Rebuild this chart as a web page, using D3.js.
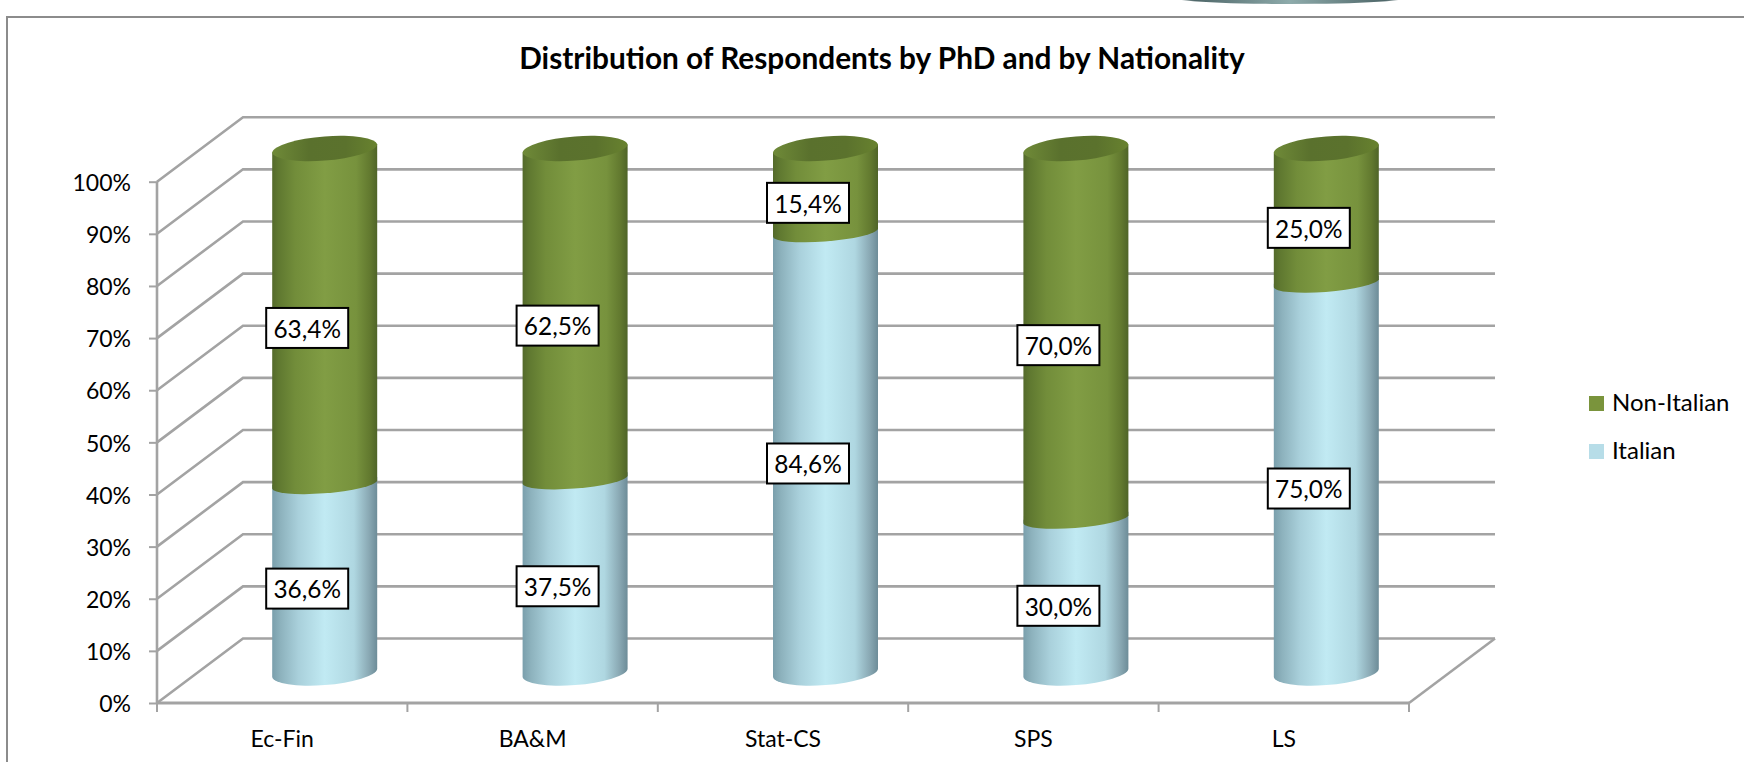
<!DOCTYPE html>
<html lang="en">
<head>
  <meta charset="UTF-8" />
  <title>Distribution of Respondents by PhD and by Nationality</title>
  <script src="https://d3js.org/d3.v7.min.js"></script>
  <style>
    *{margin:0;padding:0;box-sizing:border-box}
    body{background:#fff;overflow:hidden}
    svg{display:block;font-family:Lato,sans-serif;fill:#000}
    .grid{stroke:#a3a3a3;stroke-width:2.6;fill:none}
    .tick text{fill:#000}
    .tick line,.domain{stroke:#a3a3a3}
  </style>
</head>
<body>
  <div id="chart"></div>
  <script>
    const chartTitle = 'Distribution of Respondents by PhD and by Nationality';
    const categories = ['Ec-Fin','BA&M','Stat-CS','SPS','LS'];
    const italian    = [36.6,37.5,84.6,30.0,75.0];
    const nonItalian = [63.4,62.5,15.4,70.0,25.0];
    const seriesKeys = ['Italian','Non-Italian'];
    const yTicks     = [0,10,20,30,40,50,60,70,80,90,100];

    const width=1744, height=762;
    const x0=157, x1=1409, yBase=703, yTop=181.7;
    const depthX=86, depthY=-64.5;   // shift of the back wall
    const cylW=105, capA=52.7, capB=12.5, capRot=-4.6, capEdge=4;

    const x = d3.scaleBand().domain(categories).range([x0,x1]);
    const y = d3.scaleLinear().domain([0,100]).range([yBase,yTop]);
    // cylinders stand half way into the depth and are a bit taller than the wall
    const yCyl = d3.scaleLinear().domain([0,100]).range([673,148.5]);

    const rows = categories.map((c,i)=>({cat:c,'Italian':italian[i],'Non-Italian':nonItalian[i]}));
    const stacked = d3.stack().keys(seriesKeys)(rows);

    const svg = d3.select('#chart').append('svg').attr('width',width).attr('height',height);
    const defs = svg.append('defs');

    function hGrad(id,stops){
      const g = defs.append('linearGradient').attr('id',id);
      stops.forEach(s=>g.append('stop').attr('offset',s[0]).attr('stop-color',s[1]));
    }
    hGrad('green',[[0,'#546a2b'],[.06,'#5f7830'],[.22,'#728d3a'],[.5,'#819d44'],[.8,'#77923d'],[.93,'#62792f'],[1,'#4f6428']]);
    hGrad('blue',[[0,'#7a9fac'],[.08,'#8db2bd'],[.25,'#a9d0db'],[.5,'#c1eaf3'],[.78,'#afd7e1'],[.92,'#8aa9b4'],[1,'#6d8c98']]);
    hGrad('cap',[[0,'#6f8a38'],[.35,'#5a712d'],[.7,'#5b722d'],[1,'#68822f']]);
    hGrad('sliver',[[0,'#ffffff'],[.12,'#4f6769'],[.5,'#8eabab'],[.88,'#4f6769'],[1,'#ffffff']]);

    // bit of another shape cut by the top of the picture
    svg.append('ellipse').attr('cx',1290).attr('cy',-4).attr('rx',125).attr('ry',8).attr('fill','url(#sliver)');

    // frame, only top and left are inside the crop
    svg.append('path').attr('d',`M7,${height}V17H${width}`).attr('fill','none').attr('stroke','#8c8c8c').attr('stroke-width',2);

    svg.append('text').attr('x',882).attr('y',69).attr('text-anchor','middle')
      .attr('font-weight',700).attr('font-size',29.8).text(chartTitle);

    // walls
    const gridG = svg.append('g').attr('class','grid');
    gridG.selectAll('path').data(yTicks).join('path')
      .attr('d',d=>`M${x0},${y(d)}L${x0+depthX},${y(d)+depthY}H${x1+depthX}`);
    gridG.append('path').attr('d',`M${x1},${yBase}L${x1+depthX},${yBase+depthY}`);

    // axes
    const yAxis = svg.append('g').attr('transform',`translate(${x0},0)`)
      .call(d3.axisLeft(y).tickValues(yTicks).tickSize(8).tickPadding(18).tickFormat(d=>d+'%'));
    yAxis.selectAll('text').attr('font-size',23).attr('font-family','Lato,sans-serif').attr('dy','.38em');
    yAxis.selectAll('line').attr('stroke-width',2);
    yAxis.select('.domain').attr('stroke-width',2.6).attr('d',`M0,${yTop}V${yBase}`);

    const xAxis = svg.append('g').attr('transform',`translate(0,${yBase})`)
      .call(d3.axisBottom(x).tickSize(0).tickPadding(28));
    xAxis.selectAll('text').attr('font-size',23).attr('font-family','Lato,sans-serif');
    xAxis.select('.domain').attr('stroke-width',3).attr('d',`M${x0},0H${x1}`);
    xAxis.selectAll('.edge').data(d3.range(categories.length+1)).join('line').attr('class','edge')
      .attr('x1',i=>x0+i*x.step()).attr('x2',i=>x0+i*x.step()).attr('y1',0).attr('y2',9)
      .attr('stroke','#a3a3a3').attr('stroke-width',2);

    // cylinders, italian first so the green bottom edge falls over it
    const cx = c => x(c)+x.bandwidth()/2+depthX/2-.5;
    const arc = `A${capA},${capB} ${capRot} 0 0`;
    function bodyPath(c,lo,hi,lowest){
      const xl=cx(c)-cylW/2, xr=cx(c)+cylW/2;
      // bottom of the whole cylinder is deeper than an inner seam
      const off = lowest ? 0 : 3.5;
      const b = lowest ? capB : 9;
      return `M${xl},${yCyl(hi)+capEdge}V${yCyl(lo)+capEdge+off}`
        +`A${capA},${b} ${capRot} 0 0 ${xr},${yCyl(lo)-capEdge+off}`
        +`V${yCyl(hi)-capEdge}Z`;
    }
    const layers = svg.selectAll('.layer').data(stacked).join('g').attr('class','layer')
      .attr('fill',d=>d.key==='Italian'?'url(#blue)':'url(#green)');
    layers.selectAll('path').data(d=>d).join('path')
      .attr('d',d=>bodyPath(d.data.cat,d[0],d[1],d[0]===0));

    svg.append('g').selectAll('path').data(categories).join('path')
      .attr('fill','url(#cap)')
      .attr('d',c=>{
        const xl=cx(c)-cylW/2, xr=cx(c)+cylW/2;
        return `M${xl},${yCyl(100)+capEdge}${arc} ${xr},${yCyl(100)-capEdge}A${capA},${capB} ${capRot} 0 0 ${xl},${yCyl(100)+capEdge}Z`;
      });

    // data labels
    const fmt = v => v.toFixed(1).replace('.',',')+'%';
    const labels = svg.append('g').selectAll('g')
      .data(stacked.flatMap(s=>s.map(d=>({cat:d.data.cat,lo:d[0],hi:d[1],v:d[1]-d[0]}))))
      .join('g')
      .attr('transform',d=>`translate(${x(d.cat)+x.bandwidth()/2+25},${y((d.lo+d.hi)/2)-19})`);
    labels.append('rect').attr('x',-41).attr('y',-20).attr('width',82).attr('height',40)
      .attr('fill','#fff').attr('stroke','#000').attr('stroke-width',2);
    labels.append('text').attr('text-anchor','middle').attr('dy','.4em').attr('font-size',24.4).text(d=>fmt(d.v));

    // legend
    const legendItems = seriesKeys.slice().reverse();
    const legendColors = {'Non-Italian':'#7a943c','Italian':'#b7dde8'};
    const legend = svg.append('g').selectAll('g').data(legendItems).join('g')
      .attr('transform',(d,i)=>`translate(1589,${396+i*48})`);
    legend.append('rect').attr('width',15).attr('height',15).attr('fill',d=>legendColors[d]);
    legend.append('text').attr('x',23).attr('y',15).attr('font-size',24).text(d=>d);
  </script>
</body>
</html>
